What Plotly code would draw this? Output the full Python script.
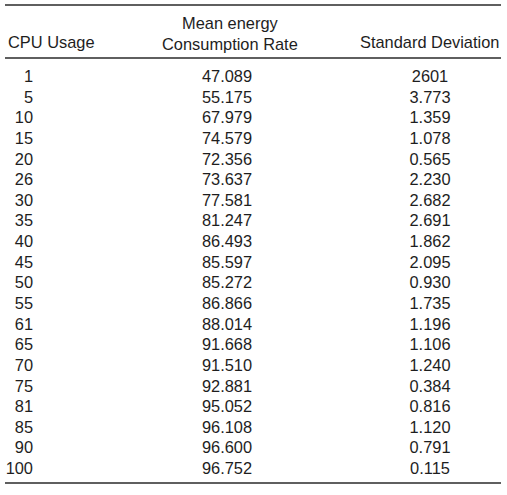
import plotly.graph_objects as go

cpu_usage = ["1", "5", "10", "15", "20", "26", "30", "35", "40", "45",
             "50", "55", "61", "65", "70", "75", "81", "85", "90", "100"]
mean_rate = ["47.089", "55.175", "67.979", "74.579", "72.356", "73.637", "77.581",
             "81.247", "86.493", "85.597", "85.272", "86.866", "88.014", "91.668",
             "91.510", "92.881", "95.052", "96.108", "96.600", "96.752"]
std_dev = ["2601", "3.773", "1.359", "1.078", "0.565", "2.230", "2.682", "2.691",
           "1.862", "2.095", "0.930", "1.735", "1.196", "1.106", "1.240", "0.384",
           "0.816", "1.120", "0.791", "0.115"]
headers = ["CPU Usage", "Mean energy<br>Consumption Rate", "Standard Deviation"]

FONT = dict(family="Liberation Sans, Arial, Helvetica, sans-serif", size=16.4, color="#1e1e1e")
rows = list(range(len(cpu_usage)))

fig = go.Figure()
fig.add_trace(go.Scatter(x=[33] * len(rows), y=rows, text=cpu_usage, mode="text",
                         textposition="middle left", textfont=FONT, hoverinfo="skip"))
fig.add_trace(go.Scatter(x=[227] * len(rows), y=rows, text=mean_rate, mode="text",
                         textposition="middle center", textfont=FONT, hoverinfo="skip"))
fig.add_trace(go.Scatter(x=[430] * len(rows), y=rows, text=std_dev, mode="text",
                         textposition="middle center", textfont=FONT, hoverinfo="skip"))

# headers
fig.add_annotation(x=7, y=-1.745, text=headers[0], xanchor="left", yanchor="middle",
                   showarrow=False, font=FONT, xshift=-1)
fig.add_annotation(x=230, y=-2.229, text=headers[1], xanchor="center", yanchor="middle",
                   showarrow=False, font=FONT, align="center", yshift=-1)
fig.add_annotation(x=500, y=-1.745, text=headers[2], xanchor="right", yanchor="middle",
                   showarrow=False, font=FONT, xshift=1)

for yy in [-3.538, -0.969, 19.632]:
    fig.add_shape(type="line", x0=5, x1=501, y0=yy, y1=yy, xref="x", yref="y",
                  line=dict(color="#5f5f5f", width=2))

fig.update_layout(
    width=507, height=495, margin=dict(l=0, r=0, t=0, b=0),
    plot_bgcolor="white", paper_bgcolor="white", showlegend=False,
    xaxis=dict(range=[0, 507], visible=False, fixedrange=True),
    yaxis=dict(range=[20.215, -3.78], visible=False, fixedrange=True),
)
fig.write_html("out.html", post_script="document.body.style.margin='0px';",
               config={"displayModeBar": False, "staticPlot": True})
